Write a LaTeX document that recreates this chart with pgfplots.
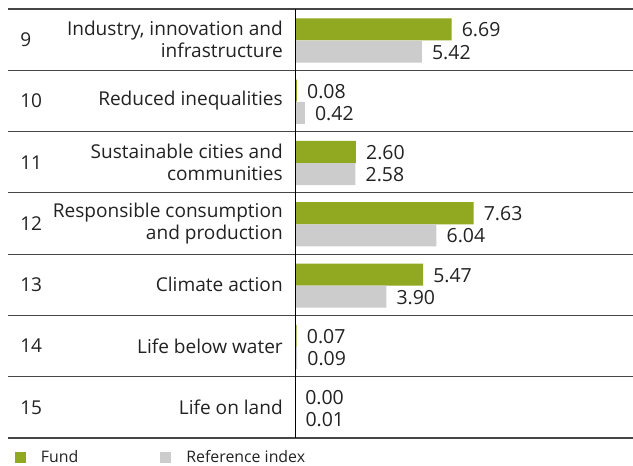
\documentclass[border=0pt]{standalone}
\usepackage{pgfplots}
\pgfplotsset{compat=1.18}
\usepackage{fontspec}
\setmainfont{Open Sans}
\definecolor{fundgreen}{RGB}{145,168,33}
\definecolor{refgray}{RGB}{204,204,204}
\definecolor{txt}{RGB}{34,34,34}
\definecolor{rulec}{RGB}{70,70,70}
\newcommand{\lblfont}{\fontsize{14.3}{16.5}\selectfont}
\begin{document}
\begin{tikzpicture}
\begin{axis}[
  name=ax,
  scale only axis,
  width=468.75pt, height=321.75pt,
  xmin=-12.265, xmax=14.444, ymin=0, ymax=7,
  axis line style={draw=none},
  xtick=\empty,
  ytick={0,1,2,3,4,5,6,7},
  yticklabels={},
  tick style={draw=none},
  ymajorgrids,
  major grid style={rulec, line width=0.8pt},
  xbar, bar width=0.36,
  clip=false,
  nodes near coords={\pgfmathprintnumber[fixed,zerofill,precision=2,assume math mode=true]{\pgfplotspointmeta}},
  nodes near coords style={anchor=west, inner sep=0pt, xshift=7.5pt, yshift=-0.5pt, font=\fontsize{14.6}{16.5}\selectfont, text=txt},
  legend columns=2,
  legend style={at={(0,0)}, anchor=west, xshift=5.25pt, yshift=-14.6pt, draw=none, fill=none, inner sep=0pt, outer sep=0pt,
    font=\fontsize{11.9}{14}\selectfont, text=txt, nodes={inner sep=0pt},
    /tikz/every odd column/.append style={column sep=11.25pt},
    /tikz/every even column/.append style={column sep=61.5pt}},
  legend image code/.code={\fill[#1] (0pt,-4.125pt) rectangle (8.25pt,4.125pt);},
]
\addplot[fill=fundgreen, draw=none, bar shift=0.167] coordinates {(6.69,6.5) (0.08,5.5) (2.60,4.5) (7.63,3.5) (5.47,2.5) (0.07,1.5) (0.00,0.5)};
\addplot[fill=refgray, draw=none, bar shift=-0.194] coordinates {(5.42,6.5) (0.42,5.5) (2.58,4.5) (6.04,3.5) (3.90,2.5) (0.09,1.5) (0.01,0.5)};
\legend{Fund, Reference index}
\draw[black, line width=0.75pt] (axis cs:0,0) -- (axis cs:0,7);
\begin{scope}[every node/.style={inner sep=0pt, font=\lblfont, text=txt}]
\node[anchor=west] at (axis cs:-11.75,6.5) {9};
\node[anchor=west] at (axis cs:-11.75,5.5) {10};
\node[anchor=west] at (axis cs:-11.75,4.5) {11};
\node[anchor=west] at (axis cs:-11.75,3.5) {12};
\node[anchor=west] at (axis cs:-11.75,2.5) {13};
\node[anchor=west] at (axis cs:-11.75,1.5) {14};
\node[anchor=west] at (axis cs:-11.75,0.5) {15};
\node[anchor=east, align=right] at (axis cs:-0.513,6.5) {Industry, innovation and\\infrastructure};
\node[anchor=east, align=right] at (axis cs:-0.513,5.5) {Reduced inequalities};
\node[anchor=east, align=right] at (axis cs:-0.513,4.5) {Sustainable cities and\\communities};
\node[anchor=east, align=right] at (axis cs:-0.513,3.5) {Responsible consumption\\and production};
\node[anchor=east, align=right] at (axis cs:-0.513,2.5) {Climate action};
\node[anchor=east, align=right] at (axis cs:-0.513,1.5) {Life below water};
\node[anchor=east, align=right] at (axis cs:-0.513,0.5) {Life on land};
\end{scope}
\end{axis}
\pgfresetboundingbox
\path ([xshift=-6pt,yshift=-20.25pt]ax.south west) rectangle ([yshift=6.75pt]ax.north east);
\end{tikzpicture}
\end{document}
